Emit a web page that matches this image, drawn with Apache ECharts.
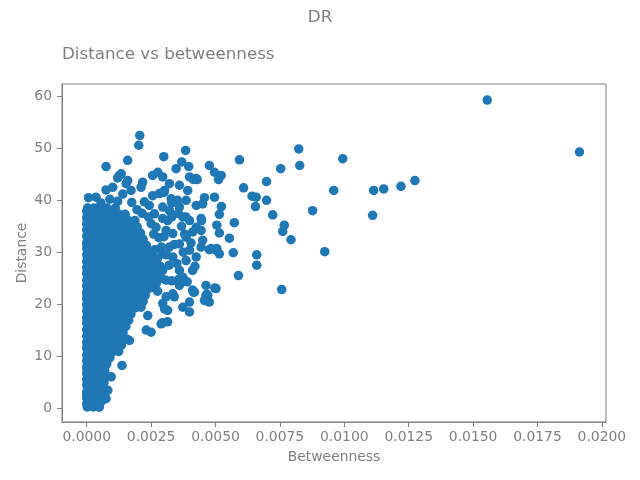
<!DOCTYPE html>
<html>
<head>
<meta charset="utf-8">
<script src="https://cdn.jsdelivr.net/npm/echarts@6.0.0/dist/echarts.min.js"></script>
<style>
  html, body { margin: 0; padding: 0; background: #ffffff; }
  #main { width: 640px; height: 480px; }
</style>
</head>
<body>
<div id="main"></div>
<script>
// tick labels
const xTicks = [0, 0.0025, 0.005, 0.0075, 0.01, 0.0125, 0.015, 0.0175, 0.02];
const yTicks = [0, 10, 20, 30, 40, 50, 60];

// nodes with (almost) zero betweenness: distances only
const zeroBetweennessDistance = [
  0.8, 1.9, 3.1, 4.4, 5.5, 6.6, 7.9, 9.1, 10.2, 11.5, 12.7, 13.8, 15.1, 16.3, 17.4, 18.7,
  19.9, 21.0, 22.3, 23.5, 24.6, 25.9, 27.1, 28.2, 29.5, 30.7, 31.8, 33.1, 34.3, 35.4, 36.7, 37.9,
];

// dense core near zero betweenness: [distance, [betweenness...]]
const coreRows = [
  [0.2, [0.00002, 0.00026, 0.00047]],
  [1.3, [0.00013, 0.00034, 0.00057]],
  [2.5, [0.0, 0.00022, 0.00046, 0.00063]],
  [3.7, [0.00009, 0.00032, 0.00056, 0.0007]],
  [4.9, [0.00003, 0.00026, 0.00045, 0.00067]],
  [6.1, [0.00012, 0.00036, 0.00057, 0.00077]],
  [7.3, [0.00001, 0.00022, 0.00046, 0.0007]],
  [8.5, [0.0001, 0.00034, 0.00058, 0.00078]],
  [9.7, [0.00003, 0.00027, 0.00048, 0.00071, 0.0009]],
  [10.9, [0.00012, 0.00034, 0.00059, 0.00082, 0.00103, 0.00124]],
  [12.1, [0.00002, 0.00026, 0.00047, 0.00072, 0.00093, 0.00118, 0.00135]],
  [13.3, [0.00011, 0.00033, 0.00058, 0.00079, 0.00104, 0.00127, 0.00154]],
  [14.5, [0.00004, 0.00028, 0.00049, 0.00074, 0.00095, 0.0012, 0.00141]],
  [15.7, [0.00013, 0.00035, 0.0006, 0.00081, 0.00106, 0.00127, 0.00152]],
  [16.9, [0.00002, 0.00026, 0.00047, 0.00072, 0.00093, 0.00118, 0.00139, 0.00163]],
  [18.1, [0.0001, 0.00034, 0.00055, 0.0008, 0.00101, 0.00126, 0.00147, 0.00172]],
  [19.3, [0.00003, 0.00025, 0.0005, 0.00071, 0.00096, 0.00117, 0.00142, 0.00163, 0.00188]],
  [20.5, [0.00012, 0.00036, 0.00057, 0.00082, 0.00103, 0.00128, 0.00149, 0.00174, 0.00195, 0.00219]],
  [21.7, [0.00001, 0.00023, 0.00048, 0.00069, 0.00094, 0.00115, 0.0014, 0.00161, 0.00186, 0.00207, 0.00227]],
  [22.9, [0.00011, 0.00035, 0.00056, 0.00081, 0.00102, 0.00127, 0.00148, 0.00173, 0.00194, 0.00219, 0.00236]],
  [24.1, [0.00004, 0.00026, 0.00051, 0.00072, 0.00097, 0.00118, 0.00143, 0.00164, 0.00189, 0.0021, 0.00235, 0.00252]],
  [25.3, [0.00013, 0.00037, 0.00058, 0.00083, 0.00104, 0.00129, 0.0015, 0.00175, 0.00196, 0.00221, 0.00242, 0.00267]],
  [26.5, [0.00002, 0.00024, 0.00049, 0.0007, 0.00095, 0.00116, 0.00141, 0.00162, 0.00187, 0.00208, 0.00233, 0.00254, 0.00277]],
  [27.7, [0.0001, 0.00034, 0.00055, 0.0008, 0.00101, 0.00126, 0.00147, 0.00172, 0.00193, 0.00218, 0.00239, 0.00264]],
  [28.9, [0.00003, 0.00025, 0.0005, 0.00071, 0.00096, 0.00117, 0.00142, 0.00163, 0.00188, 0.00209, 0.00234, 0.00255]],
  [30.1, [0.00012, 0.00036, 0.00057, 0.00082, 0.00103, 0.00128, 0.00149, 0.00174, 0.00195, 0.0022, 0.00241]],
  [31.3, [0.00001, 0.00023, 0.00048, 0.00069, 0.00094, 0.00115, 0.0014, 0.00161, 0.00186, 0.00207, 0.00232]],
  [32.5, [0.00011, 0.00035, 0.00056, 0.00081, 0.00102, 0.00127, 0.00148, 0.00173, 0.00194, 0.00219]],
  [33.7, [0.00004, 0.00026, 0.00051, 0.00072, 0.00097, 0.00118, 0.00143, 0.00164, 0.00189, 0.00209]],
  [34.9, [0.00013, 0.00037, 0.00058, 0.00083, 0.00104, 0.00129, 0.0015, 0.00175, 0.00196]],
  [36.1, [0.00002, 0.00024, 0.00049, 0.0007, 0.00095, 0.00116, 0.00141, 0.00162, 0.00187]],
  [37.3, [0.0001, 0.00034, 0.00055, 0.0008, 0.00101, 0.00126, 0.00149]],
  [38.5, [0.00003, 0.00028, 0.00055, 0.00079, 0.00111]],
];

// looser points around the core: [betweenness, distance]
const fringePoints = [
  [0.00206, 52.5], [0.00202, 50.6], [0.00075, 46.5], [0.00159, 47.7], [0.00299, 48.4],
  [0.00007, 40.5], [0.00036, 40.6], [0.00134, 45.1], [0.0012, 44.3], [0.00256, 44.8],
  [0.00276, 45.4], [0.00217, 43.5], [0.00075, 42.0], [0.00127, 44.8], [0.00101, 42.5],
  [0.00153, 43.2], [0.00172, 41.9], [0.00295, 44.5], [0.00321, 43.2], [0.0036, 42.9],
  [0.00399, 44.5], [0.00425, 44.2], [0.00392, 41.9], [0.00256, 40.9], [0.00282, 41.3],
  [0.00328, 40.3], [0.00353, 40.0], [0.00386, 40.0], [0.00425, 39.0], [0.0045, 39.3],
  [0.00496, 40.6], [0.00224, 39.7], [0.00243, 39.0], [0.00295, 38.7], [0.00321, 38.0],
  [0.0036, 38.7], [0.00373, 36.8], [0.00399, 36.1], [0.00444, 36.5], [0.00425, 34.8],
  [0.00411, 33.9], [0.00263, 37.4], [0.00295, 36.5], [0.00314, 36.1], [0.00269, 34.8],
  [0.00308, 34.2], [0.00334, 33.6], [0.00386, 32.9], [0.0036, 31.6], [0.00399, 30.4],
  [0.0045, 32.3], [0.00444, 31.0], [0.00483, 30.7], [0.00502, 30.4], [0.00321, 31.0],
  [0.00295, 29.7], [0.00334, 29.1], [0.00386, 28.4], [0.00411, 26.5], [0.00425, 29.1],
  [0.0036, 26.5], [0.00373, 25.2], [0.00295, 26.5], [0.00308, 24.6], [0.00411, 22.7],
  [0.00463, 23.6], [0.00502, 23.0], [0.00463, 21.7], [0.00476, 20.4], [0.0036, 23.6],
  [0.00334, 22.0], [0.00295, 20.1], [0.00399, 20.4], [0.00373, 19.4], [0.00418, 22.3],
  [0.00457, 20.7], [0.0047, 21.7], [0.00399, 18.5], [0.00308, 21.4], [0.0034, 21.4],
  [0.00302, 19.1], [0.00314, 18.8], [0.00289, 16.2], [0.00314, 16.6], [0.00231, 15.0],
  [0.0025, 14.6], [0.00211, 19.4], [0.00237, 17.8], [0.00166, 13.0], [0.00137, 8.2],
  [0.00095, 6.0], [0.00082, 3.4], [0.00075, 1.8], [0.00049, 0.2],
  [0.00384, 49.6], [0.00476, 46.7], [0.00396, 46.5], [0.00369, 47.4], [0.00347, 46.1],
  [0.00496, 45.4], [0.00522, 44.8], [0.00512, 44.0], [0.00415, 44.0], [0.00429, 44.0],
  [0.00457, 40.5], [0.00523, 38.8], [0.00515, 37.3], [0.00573, 35.7], [0.00554, 32.7],
  [0.00505, 35.2], [0.00515, 33.7], [0.00446, 36.1], [0.00444, 34.2], [0.00476, 30.5],
  [0.00505, 30.7], [0.00515, 29.7], [0.00569, 29.9], [0.00497, 23.1], [0.00414, 22.3],
  [0.00466, 21.9], [0.0046, 20.7], [0.00294, 16.4],
  [0.003, 41.5], [0.0033, 39.5], [0.00355, 37.5], [0.0033, 36.8], [0.003, 33.0],
  [0.0034, 31.5], [0.00375, 30.0], [0.0032, 27.5], [0.0035, 27.8], [0.0038, 33.5],
  [0.00405, 31.8], [0.00368, 35.0], [0.0031, 29.5], [0.00275, 22.5], [0.0033, 24.5],
  [0.00358, 24.8], [0.0039, 24.3], [0.0042, 27.3], [0.00385, 36.8], [0.00055, 39.5],
  [0.0009, 40.2], [0.0012, 39.8], [0.0014, 41.2], [0.00175, 39.6], [0.00195, 38.2],
  [0.00159, 43.8], [0.00211, 42.5], [0.00302, 41.9],
  [0.00265, 30.5], [0.0028, 32.8], [0.0026, 33.5], [0.00275, 28.8], [0.0029, 31.0],
  [0.0025, 35.5], [0.00285, 27.3], [0.0024, 36.8], [0.00215, 37.5], [0.0029, 25.0],
  [0.0027, 24.0], [0.0025, 23.2],
];

// isolated high-betweenness nodes
const outlierPoints = [
  [0.01913, 49.3], [0.01555, 59.3], [0.01274, 43.8], [0.0122, 42.7], [0.01153, 42.2],
  [0.01114, 41.9], [0.0111, 37.1], [0.00994, 48.0], [0.00959, 41.9], [0.00924, 30.1],
  [0.00877, 38.0], [0.00823, 49.9], [0.00827, 46.7], [0.00793, 32.4], [0.00767, 35.2],
  [0.00761, 34.0], [0.00757, 22.8], [0.00753, 46.1], [0.00722, 37.2], [0.00698, 43.6],
  [0.00698, 40.0], [0.0066, 29.5], [0.0066, 27.5], [0.00642, 40.8], [0.00658, 40.6],
  [0.00655, 38.8], [0.00589, 25.5], [0.00593, 47.8], [0.00609, 42.4],
];

const textColor = "#808080";
const fontFamily = "DejaVu Sans";

var points = [];
zeroBetweennessDistance.forEach((d) => points.push([0, d]));
coreRows.forEach(([dist, xs]) => {
  xs.forEach((b) => points.push([b, dist]));
});
fringePoints.forEach((p) => points.push(p));
outlierPoints.forEach((p) => points.push(p));

var chartDom = document.getElementById("main");
var myChart = echarts.init(chartDom, null, { renderer: "canvas" });
var option;

option = {
  animation: false,
  backgroundColor: "#ffffff",
  title: [
    {
      text: "DR",
      left: "center",
      top: 4,
      textStyle: { color: textColor, fontSize: 16.7, fontWeight: "normal", fontFamily: fontFamily },
    },
    {
      text: "Distance vs betweenness",
      left: 57,
      top: 41,
      textStyle: { color: textColor, fontSize: 16.7, fontWeight: "normal", fontFamily: fontFamily },
    },
  ],
  grid: {
    left: 62,
    right: 34,
    top: 84,
    bottom: 58,
    show: true,
    borderColor: textColor,
    borderWidth: 1,
    backgroundColor: "transparent",
  },
  xAxis: {
    type: "value",
    min: -0.00096,
    max: 0.02016,
    name: "Betweenness",
    nameLocation: "middle",
    nameGap: 28,
    nameMoveOverlap: false,
    nameTextStyle: { color: textColor, fontSize: 13.9, fontFamily: fontFamily },
    axisLine: { show: true, onZero: false, lineStyle: { color: textColor, width: 1 } },
    axisTick: { show: true, length: 5, customValues: xTicks, lineStyle: { color: textColor } },
    axisLabel: {
      customValues: xTicks,
      color: textColor,
      fontSize: 13.9,
      fontFamily: fontFamily,
      margin: 8,
      formatter: (v) => v.toFixed(4),
    },
    splitLine: { show: false },
  },
  yAxis: {
    type: "value",
    min: -2.7,
    max: 62.4,
    name: "Distance",
    nameLocation: "middle",
    nameGap: 33,
    nameMoveOverlap: false,
    nameTextStyle: { color: textColor, fontSize: 13.9, fontFamily: fontFamily },
    axisLine: { show: true, onZero: false, lineStyle: { color: textColor, width: 1 } },
    axisTick: { show: true, length: 5, customValues: yTicks, lineStyle: { color: textColor } },
    axisLabel: {
      customValues: yTicks,
      color: textColor,
      fontSize: 13.9,
      fontFamily: fontFamily,
      margin: 10,
      formatter: (v) => String(Math.round(v)),
    },
    splitLine: { show: false },
  },
  series: [
    {
      type: "scatter",
      data: points,
      symbolSize: 9.5,
      large: false,
      itemStyle: { color: "#1f77b4", opacity: 1 },
    },
  ],
};

option && myChart.setOption(option);
</script>
</body>
</html>
